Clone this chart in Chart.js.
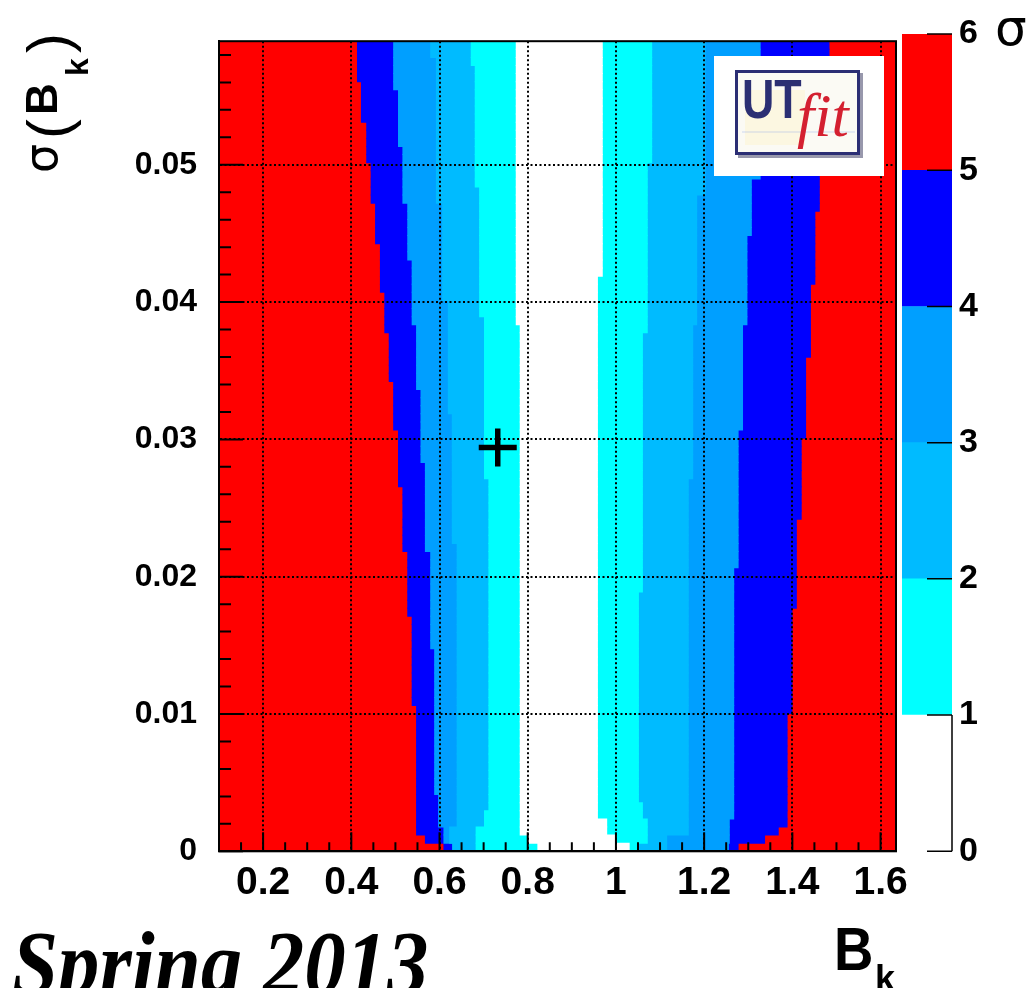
<!DOCTYPE html>
<html><head><meta charset="utf-8">
<script src="https://cdn.jsdelivr.net/npm/chart.js@4/dist/chart.umd.min.js"></script>
<style>
html,body{margin:0;padding:0;background:#fff;}
#wrap{position:relative;width:1035px;height:988px;overflow:hidden;}
#main{position:absolute;left:0;top:0;}
#cbar{position:absolute;left:895px;top:0;}
</style></head><body>
<div id="wrap"><canvas id="main" width="1035" height="988"></canvas><canvas id="cbar" width="140" height="988"></canvas></div>
<script>
// ---------- data ----------
const X_MIN = 0.1, X_MAX = 1.635;
const Y_MIN = 0, Y_MAX = 0.059;
const N_ROWS = 100;
const xTicks = [0.2, 0.4, 0.6, 0.8, 1.0, 1.2, 1.4, 1.6];
const yTicks = [0, 0.01, 0.02, 0.03, 0.04, 0.05];
const sigmaLevels = [0, 1, 2, 3, 4, 5, 6];
const levelColors = ['#ffffff', '#00ffff', '#00bbff', '#009fff', '#0000ff', '#ff0000'];
// contour boundaries: [first row (bin of sigma(B_k)), B_k value]
const left5  = [[0,0.610],[1,0.568],[2,0.548],[18,0.538],[29,0.528],[37,0.517],[45,0.507],[52,0.496],[58,0.486],[64,0.476],[69,0.466],[75,0.455],[80,0.445],[85,0.435],[90,0.423],[95,0.414]];
const left4  = [[0,0.630],[1,0.610],[3,0.598],[7,0.589],[25,0.580],[37,0.568],[48,0.558],[57,0.548],[65,0.538],[73,0.528],[80,0.517],[87,0.507],[94,0.496]];
const left3  = [[0,0.630],[1,0.623],[3,0.640],[38,0.629],[54,0.620],[68,0.607],[80,0.593],[98,0.580]];
const left2  = [[0,0.683],[3,0.702],[5,0.712],[46,0.702],[66,0.691],[82,0.681],[97,0.672]];
const left1  = [[0,0.823],[1,0.801],[2,0.783],[65,0.774]];
const right1 = [[0,1.030],[1,1.000],[2,0.979],[4,0.958],[71,0.969]];
const right2 = [[0,1.051],[1,1.071],[4,1.060],[6,1.051],[32,1.060],[64,1.071],[85,1.081]];
const right3 = [[0,1.115],[2,1.164],[46,1.174],[65,1.183],[81,1.202]];
const right4 = [[0,1.255],[1,1.257],[4,1.267],[35,1.277],[52,1.287],[65,1.297],[76,1.307],[83,1.327]];
const right5 = [[0,1.277],[1,1.337],[2,1.368],[3,1.388],[17,1.399],[30,1.409],[41,1.420],[51,1.430],[61,1.441],[70,1.451],[79,1.461],[86,1.472],[92,1.483]];
const bestFit = {x: 0.732, y: 0.0294};

// ---------- layout ----------
const PLOT = {left: 219, top: 34, right: 896, bottom: 851.3, W: 1035, H: 988};
const BOLD = '"Liberation Sans", Arial, Helvetica, sans-serif';

// ---------- build tables ----------
const rowH = (Y_MAX - Y_MIN) / N_ROWS;
const rowCenters = Array.from({length: N_ROWS}, (_, i) => Y_MIN + (i + 0.5) * rowH);
function expand(steps) {
  return rowCenters.map((_, r) => {
    let v = steps[0][1];
    for (const [s, x] of steps) if (r >= s) v = x;
    return v;
  });
}
function band(lo, hi) {
  const L = expand(lo), R = expand(hi);
  return rowCenters.map((y, i) => ({x: [L[i], R[i]], y}));
}
const fullBand = rowCenters.map(y => ({x: [X_MIN, X_MAX], y}));
const bandData = [band(left1, right1), band(left2, right2), band(left3, right3), band(left4, right4), band(left5, right5), fullBand];

const fmt = v => String(+(+v).toFixed(3));

const barCommon = {type: 'bar', indexAxis: 'y', grouped: false, categoryPercentage: 1, barPercentage: 1,
  borderWidth: 0, inflateAmount: 0.5, xAxisID: 'x', yAxisID: 'y'};

const decor = {
  id: 'decor',
  afterDraw(chart) {
    const {ctx, chartArea: a, scales: {x, y}} = chart;
    ctx.save();
    // inner ticks
    ctx.strokeStyle = '#000'; ctx.lineWidth = 2;
    ctx.beginPath();
    for (let k = 0; ; k++) {
      const v = X_MIN + k * 0.05; if (v > X_MAX + 1e-9) break;
      const px = x.getPixelForValue(v);
      const major = xTicks.some(t => Math.abs(t - v) < 1e-6);
      ctx.moveTo(px, a.bottom); ctx.lineTo(px, a.bottom - (major ? 19 : 9));
    }
    for (let k = 0; ; k++) {
      const v = Y_MIN + k * 0.002; if (v > Y_MAX + 1e-9) break;
      const py = y.getPixelForValue(v);
      const major = yTicks.some(t => Math.abs(t - v) < 1e-6);
      ctx.moveTo(a.left, py); ctx.lineTo(a.left + (major ? 24 : 12), py);
    }
    ctx.stroke();
    ctx.strokeRect(a.left, a.top, a.right - a.left, a.bottom - a.top);

    // logo
    ctx.fillStyle = '#fff'; ctx.fillRect(714, 56, 170, 120);
    ctx.fillStyle = 'rgba(50,50,90,0.5)'; ctx.fillRect(738, 73, 125, 85);
    ctx.fillStyle = '#fbfaf4'; ctx.fillRect(735, 70, 125, 85);
    ctx.fillStyle = 'rgba(255,240,190,0.35)'; ctx.fillRect(745, 90, 60, 55);
    ctx.strokeStyle = 'rgba(120,150,230,0.35)'; ctx.lineWidth = 1;
    ctx.beginPath(); ctx.moveTo(742, 132); ctx.lineTo(855, 132); ctx.stroke();
    ctx.strokeStyle = '#2b2e74'; ctx.lineWidth = 3; ctx.strokeRect(736.5, 71.5, 122, 82);
    ctx.save(); ctx.translate(742, 118); ctx.scale(0.8, 1);
    ctx.fillStyle = '#2b2f73'; ctx.font = 'bold 56px ' + BOLD; ctx.textBaseline = 'alphabetic';
    ctx.fillText('UT', 0, 0); ctx.restore();
    ctx.fillStyle = '#d42030'; ctx.font = 'italic 62px "Liberation Serif", "Times New Roman", serif';
    ctx.textBaseline = 'alphabetic';
    ctx.fillText('fit', 797, 136);

    // Spring 2013
    ctx.fillStyle = '#000';
    ctx.save(); ctx.translate(12, 994); ctx.scale(0.9, 1);
    ctx.font = 'italic bold 92px "Liberation Serif", "Times New Roman", serif';
    ctx.fillText('Spring 2013', 0, 0); ctx.restore();

    // x title B_k
    ctx.save(); ctx.translate(834, 970); ctx.scale(0.88, 1);
    ctx.font = 'bold 62px ' + BOLD; ctx.fillText('B', 0, 0); ctx.restore();
    ctx.font = 'bold 36px ' + BOLD; ctx.fillText('k', 875, 991);

    // y title sigma(B_k)
    ctx.save(); ctx.translate(57, 175); ctx.rotate(-Math.PI / 2);
    ctx.font = '46px "DejaVu Sans", sans-serif'; ctx.fillText('σ', 2, 0);
    ctx.font = '60px ' + BOLD; ctx.fillText('(', 36, 12);
    ctx.font = 'bold 44px ' + BOLD; ctx.fillText('B', 60, 0);
    ctx.font = 'bold 32px ' + BOLD; ctx.fillText('k', 99, 31);
    ctx.font = '60px ' + BOLD; ctx.fillText(')', 122, 12);
    ctx.restore();

    // colour-bar title
    ctx.font = '50px "DejaVu Sans", sans-serif'; ctx.fillText('σ', 995, 45);
    ctx.restore();
  }
};

const gridStyle = {color: '#000', lineWidth: 2, drawTicks: false, offset: false, z: 1};
const borderStyle = {display: true, color: '#000', width: 2, dash: [2, 2.5], z: 1};

new Chart(document.getElementById('main'), {
  type: 'bar',
  data: {
    datasets: [
      {type: 'scatter', data: [bestFit], pointStyle: 'cross', pointRadius: 19, borderWidth: 5.5,
       borderColor: '#000', backgroundColor: '#000', order: 0, xAxisID: 'x', yAxisID: 'y'},
      ...bandData.map((d, i) => Object.assign({}, barCommon, {
        label: sigmaLevels[i] + '-' + sigmaLevels[i + 1] + ' sigma', data: d,
        backgroundColor: levelColors[i], order: i + 1}))
    ]
  },
  options: {
    responsive: false, animation: false, events: [],
    layout: {padding: {left: 0, top: PLOT.top, right: PLOT.W - PLOT.right, bottom: 0}},
    plugins: {legend: {display: false}, tooltip: {enabled: false}},
    scales: {
      x: {type: 'linear', position: 'bottom', min: X_MIN, max: X_MAX, bounds: 'data', offset: false,
        afterBuildTicks: s => { s.ticks = xTicks.map(v => ({value: v})); },
        afterFit: s => { s.height = PLOT.H - PLOT.bottom; },
        ticks: {autoSkip: false, maxRotation: 0, minRotation: 0, padding: 9, color: '#000', z: 1,
          font: {family: BOLD, weight: 'bold', size: 39}, callback: v => fmt(v)},
        grid: gridStyle, border: borderStyle
      },
      y: {type: 'linear', position: 'left', min: Y_MIN, max: Y_MAX, bounds: 'data', offset: false,
        afterBuildTicks: s => { s.ticks = yTicks.map(v => ({value: v})); },
        afterFit: s => { s.width = PLOT.left; },
        ticks: {autoSkip: false, padding: 22, color: '#000', z: 1,
          font: {family: BOLD, weight: 'bold', size: 32}, callback: v => fmt(v)},
        grid: gridStyle, border: borderStyle
      }
    }
  },
  plugins: [decor]
});

// ---------- colour bar ----------
const cbarTicks = {
  id: 'cbarTicks',
  afterDraw(chart) {
    const {ctx, chartArea: a, scales: {y}} = chart;
    ctx.save(); ctx.strokeStyle = '#000'; ctx.lineWidth = 1.5; ctx.beginPath();
    sigmaLevels.forEach(v => { const py = y.getPixelForValue(v); ctx.moveTo(a.right - 25, py); ctx.lineTo(a.right, py); });
    ctx.moveTo(a.right, y.getPixelForValue(sigmaLevels[0])); ctx.lineTo(a.right, y.getPixelForValue(sigmaLevels[1]));
    ctx.stroke(); ctx.restore();
  }
};
new Chart(document.getElementById('cbar'), {
  type: 'bar',
  data: {
    labels: [''],
    datasets: levelColors.map((c, i) => ({data: [[sigmaLevels[i], sigmaLevels[i + 1]]], backgroundColor: c,
      grouped: false, categoryPercentage: 1, barPercentage: 1, borderWidth: 0, inflateAmount: 0.3}))
  },
  options: {
    responsive: false, animation: false, events: [],
    layout: {padding: {left: 7, top: PLOT.top, right: 0, bottom: PLOT.H - PLOT.bottom}},
    plugins: {legend: {display: false}, tooltip: {enabled: false}},
    scales: {
      x: {display: false},
      y: {position: 'right', min: sigmaLevels[0], max: sigmaLevels[sigmaLevels.length - 1], bounds: 'data',
        afterBuildTicks: s => { s.ticks = sigmaLevels.map(v => ({value: v})); },
        afterFit: s => { s.width = 83; },
        grid: {display: false, drawTicks: false}, border: {display: false},
        ticks: {padding: 7, color: '#000', font: {family: BOLD, weight: 'bold', size: 34}}}
    }
  },
  plugins: [cbarTicks]
});
</script>
</body></html>
